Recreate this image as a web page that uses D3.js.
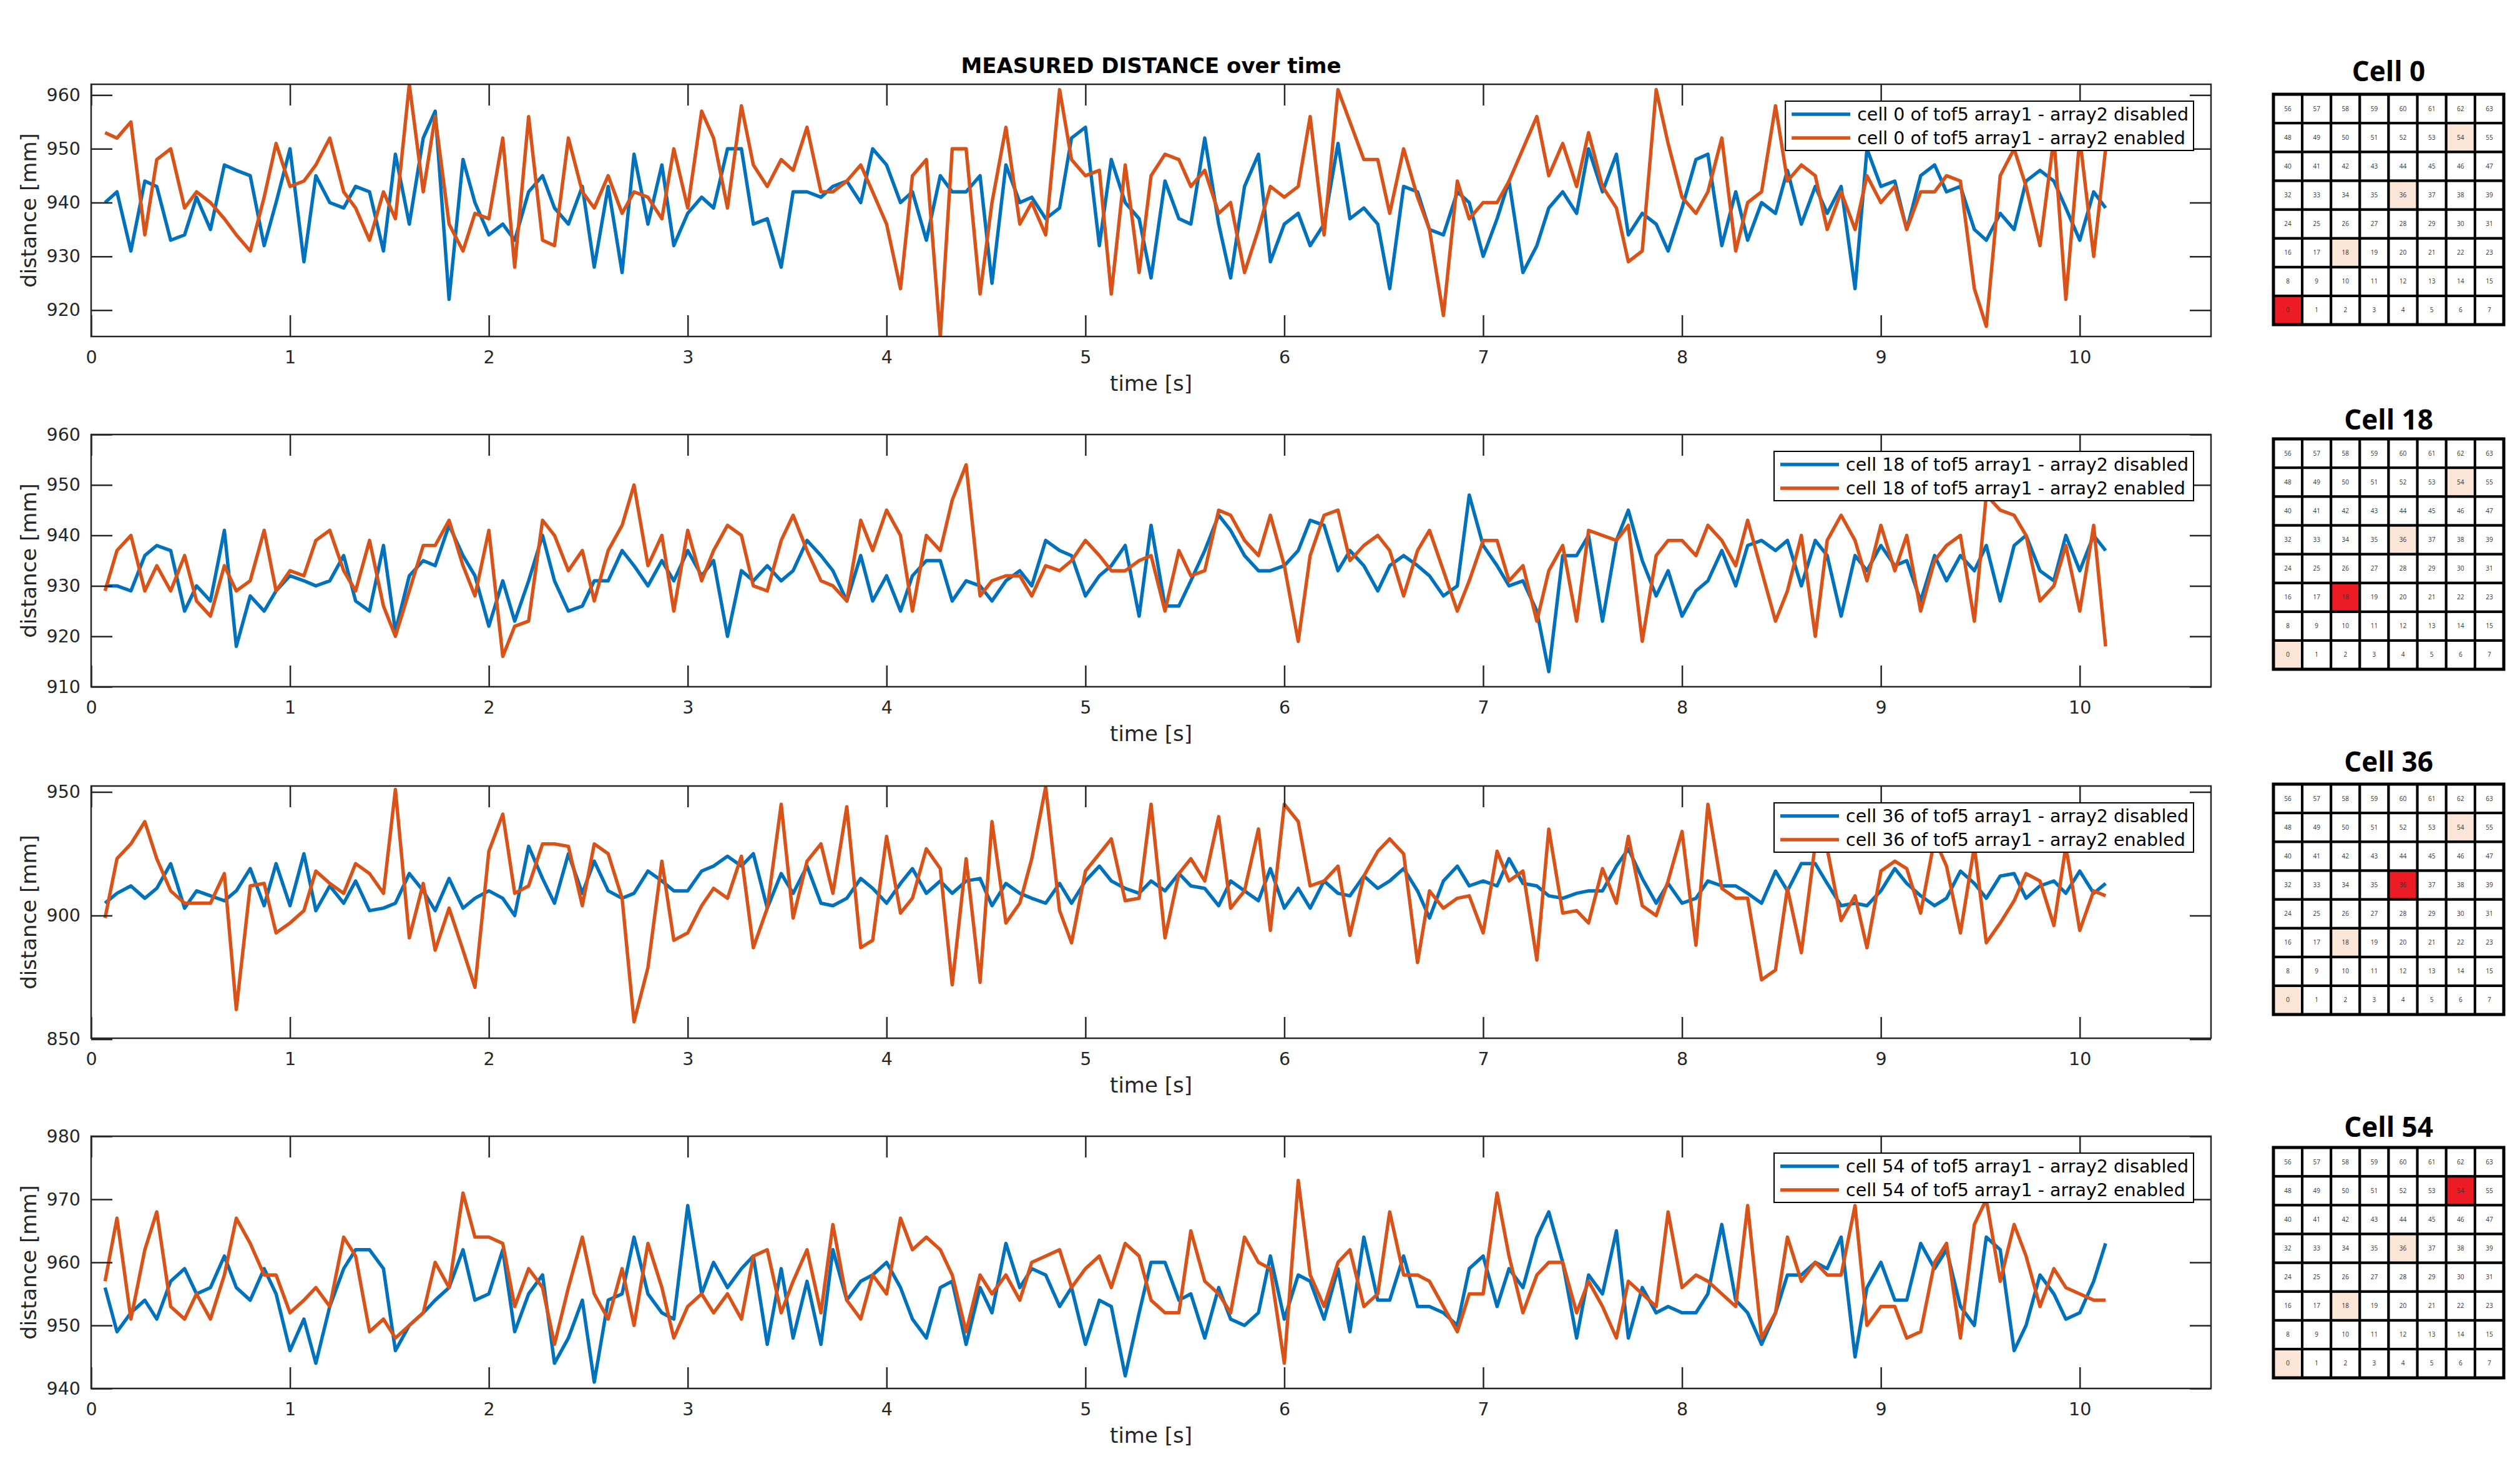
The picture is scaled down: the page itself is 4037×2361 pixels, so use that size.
<!DOCTYPE html>
<html>
<head>
<meta charset="utf-8">
<style>
  body { margin: 0; background: #fff; }
  svg { font-family: "DejaVu Sans", sans-serif; }
</style>
</head>
<body>
<svg width="4037" height="2361"></svg>
<script src="https://d3js.org/d3.v7.min.js"></script>
<script>

// sample times [s], one sample every ~0.067 s
var sampleTimes = [
  0.07,0.13,0.2,0.27,0.33,0.4,0.47,0.53,0.6,0.67,0.73,0.8,0.87,0.93,1,
  1.07,1.13,1.2,1.27,1.33,1.4,1.47,1.53,1.6,1.67,1.73,1.8,1.87,1.93,2,
  2.07,2.13,2.2,2.27,2.33,2.4,2.47,2.53,2.6,2.67,2.73,2.8,2.87,2.93,3,
  3.07,3.13,3.2,3.27,3.33,3.4,3.47,3.53,3.6,3.67,3.73,3.8,3.87,3.93,4,
  4.07,4.13,4.2,4.27,4.33,4.4,4.47,4.53,4.6,4.67,4.73,4.8,4.87,4.93,5,
  5.07,5.13,5.2,5.27,5.33,5.4,5.47,5.53,5.6,5.67,5.73,5.8,5.87,5.93,6,
  6.07,6.13,6.2,6.27,6.33,6.4,6.47,6.53,6.6,6.67,6.73,6.8,6.87,6.93,7,
  7.07,7.13,7.2,7.27,7.33,7.4,7.47,7.53,7.6,7.67,7.73,7.8,7.87,7.93,8,
  8.07,8.13,8.2,8.27,8.33,8.4,8.47,8.53,8.6,8.67,8.73,8.8,8.87,8.93,9,
  9.07,9.13,9.2,9.27,9.33,9.4,9.47,9.53,9.6,9.67,9.73,9.8,9.87,9.93,10,
  10.07,10.13
];

var cellIds = [0, 18, 36, 54];

// measured distance [mm], array2 disabled / enabled
var cell0Disabled = [
  940,942,931,944,943,933,934,941,935,947, 946,945,932,940,950,929,945,940,939,943,
  942,931,949,936,952,957,922,948,940,934, 936,933,942,945,939,936,943,928,943,927,
  949,936,947,932,938,941,939,950,950,936, 937,928,942,942,941,943,944,940,950,947,
  940,942,933,945,942,942,945,925,947,940, 941,937,939,952,954,932,948,940,937,926,
  944,937,936,952,936,926,943,949,929,936, 938,932,936,951,937,939,936,924,943,942,
  935,934,942,940,930,937,944,927,932,939, 942,938,950,942,949,934,938,936,931,939,
  948,949,932,942,933,940,938,946,936,943, 938,943,924,950,943,944,935,945,947,942,
  943,935,933,938,935,944,946,944,939,933, 942,939
];
var cell0Enabled = [
  953,952,955,934,948,950,939,942,940,937, 934,931,941,951,943,944,947,952,942,939,
  933,942,937,962,942,956,936,931,938,937, 952,928,956,933,932,952,942,939,945,938,
  942,941,937,950,939,957,952,939,958,947, 943,948,946,954,942,942,944,947,942,936,
  924,945,948,915,950,950,923,940,954,936, 940,934,961,948,945,946,923,947,927,945,
  949,948,943,946,938,940,927,935,943,941, 943,956,934,961,955,948,948,938,950,941,
  935,919,944,937,940,940,944,950,956,945, 951,943,953,943,939,929,931,961,951,941,
  938,942,952,931,940,942,958,944,947,945, 935,942,935,945,940,943,935,942,942,945,
  944,924,917,945,950,943,932,952,922,952, 930,950
];
var cell18Disabled = [
  930,930,929,936,938,937,925,930,927,941, 918,928,925,929,932,931,930,931,936,927,
  925,938,921,932,935,934,942,936,932,922, 931,923,931,940,931,925,926,931,931,937,
  934,930,935,931,937,932,935,920,933,931, 934,931,933,939,936,933,927,936,927,932,
  925,932,935,935,927,931,930,927,931,933, 930,939,937,936,928,932,934,938,924,942,
  926,926,931,937,944,941,936,933,933,934, 937,943,942,933,937,934,929,934,936,934,
  932,928,930,948,938,934,930,931,925,913, 936,936,940,923,939,945,935,928,933,924,
  929,931,937,930,938,939,937,939,930,939, 936,924,936,933,938,934,935,927,936,931,
  936,933,938,927,938,940,933,931,940,933, 940,937
];
var cell18Enabled = [
  929,937,940,929,934,929,936,927,924,934, 929,931,941,929,933,932,939,941,933,929,
  939,926,920,929,938,938,943,934,928,941, 916,922,923,943,940,933,937,927,937,942,
  950,934,940,925,941,931,937,942,940,930, 929,939,944,937,931,930,927,943,937,945,
  940,925,940,937,947,954,928,931,932,932, 928,934,933,935,939,936,933,933,935,936,
  925,937,932,933,945,944,939,936,944,934, 919,936,944,945,935,938,940,937,928,937,
  941,933,925,931,939,939,931,934,923,933, 938,923,941,940,939,942,919,936,939,939,
  936,942,939,934,943,933,923,929,940,920, 939,944,939,931,942,933,940,925,935,938,
  940,923,948,945,944,940,927,930,938,925, 942,918
];
var cell36Disabled = [
  905,909,912,907,911,921,903,910,908,906, 910,919,904,921,904,925,902,912,905,914,
  902,903,905,917,910,902,915,903,907,910, 907,900,928,915,905,925,909,922,910,907,
  909,918,914,910,910,918,920,924,920,925, 903,917,909,920,905,904,907,915,911,905,
  913,919,909,914,909,914,915,904,913,909, 907,905,913,905,914,920,914,911,909,914,
  910,917,912,911,904,914,910,906,919,903, 911,903,914,909,908,916,911,914,919,910,
  899,914,920,912,914,912,923,913,912,908, 907,909,910,910,920,927,915,905,913,905,
  907,914,912,912,909,905,918,910,921,921, 913,904,905,904,910,919,913,908,904,907,
  918,913,907,916,917,907,912,914,909,918, 909,913
];
var cell36Enabled = [
  899,923,929,938,923,910,905,905,905,917, 862,912,913,893,897,902,918,913,909,921,
  917,909,951,891,913,886,903,886,871,926, 941,909,912,929,929,928,904,929,925,907,
  857,879,922,890,893,904,911,907,924,887, 903,945,899,922,929,909,944,887,890,932,
  901,907,927,919,872,923,873,938,897,905, 923,952,902,889,918,925,931,906,907,945,
  891,917,923,914,940,903,910,935,894,945, 938,912,914,920,892,916,926,931,925,881,
  910,903,907,908,893,926,914,918,882,935, 901,902,897,919,905,932,904,900,914,934,
  888,945,911,907,907,874,878,911,885,929, 927,898,908,887,918,922,919,901,931,920,
  893,928,889,897,906,917,914,896,928,894, 910,908
];
var cell54Disabled = [
  956,949,952,954,951,957,959,955,956,961, 956,954,959,955,946,951,944,953,959,962,
  962,959,946,950,952,954,956,962,954,955, 962,949,955,958,944,948,954,941,954,955,
  964,955,952,951,969,955,960,956,959,961, 947,959,948,957,947,962,954,957,958,960,
  956,951,948,956,957,947,956,952,963,956, 959,958,953,956,947,954,953,942,952,960,
  960,954,955,948,956,951,950,952,961,951, 958,957,951,959,949,964,954,954,961,953,
  953,952,950,959,961,953,959,956,964,968, 960,948,958,955,965,948,956,952,953,952,
  952,955,966,954,952,947,952,958,958,960, 959,964,945,956,960,954,954,963,959,962,
  953,950,964,962,946,950,958,955,951,952, 957,963
];
var cell54Enabled = [
  957,967,951,962,968,953,951,955,951,958, 967,963,958,958,952,954,956,953,964,961,
  949,951,948,950,952,960,956,971,964,964, 963,953,959,956,947,956,964,955,951,959,
  950,963,956,948,953,955,952,955,951,961, 962,952,957,962,952,966,954,951,958,955,
  967,962,964,962,958,949,958,955,958,954, 960,961,962,956,959,961,956,963,961,954,
  952,952,965,957,955,952,964,960,959,944, 973,958,953,960,962,953,955,968,958,958,
  957,953,949,955,955,971,961,952,958,960, 960,952,957,953,948,957,955,953,968,956,
  958,957,955,953,969,948,952,964,957,960, 958,958,969,950,953,953,948,949,960,963,
  948,966,970,957,966,961,953,959,956,955, 954,954
];

var disabledSeries = [cell0Disabled, cell18Disabled, cell36Disabled, cell54Disabled];
var enabledSeries = [cell0Enabled, cell18Enabled, cell36Enabled, cell54Enabled];

var yLimits = [[915.1, 962], [910, 960], [850.4, 952.4], [940, 980]];
var yTickValues = [
  [920, 930, 940, 950, 960],
  [910, 920, 930, 940, 950, 960],
  [850, 900, 950],
  [940, 950, 960, 970, 980]
];
var xLimits = [0, 10.66];
var xTickValues = [0, 1, 2, 3, 4, 5, 6, 7, 8, 9, 10];

// layout
var plotLeft = 146, plotRight = 3542, plotHeight = 404;
var panelTops = [135, 696, 1259, 1820];
var gridLeft = 3642, gridSize = 369;
var gridTops = [151, 703, 1256, 1838];
var gridTitleBase = [130, 688, 1236, 1821];
var tickLen = 34;
var axisColor = "#262626";
var blue = "#0072BD", orange = "#D95319";

var svg = d3.select("svg");

var x = d3.scaleLinear().domain(xLimits).range([plotLeft, plotRight]);

svg.append("text")
    .attr("x", (plotLeft + plotRight) / 2)
    .attr("y", 117)
    .attr("text-anchor", "middle")
    .attr("font-size", 34)
    .attr("font-weight", "bold")
    .attr("fill", "#000")
    .text("MEASURED DISTANCE over time");

cellIds.forEach(function(cell, i) {
  var top = panelTops[i], bottom = top + plotHeight;
  var y = d3.scaleLinear().domain(yLimits[i]).range([bottom, top]);
  var g = svg.append("g");

  svg.append("clipPath").attr("id", "clip" + i)
    .append("rect")
      .attr("x", plotLeft).attr("y", top)
      .attr("width", plotRight - plotLeft).attr("height", plotHeight);

  var line = d3.line()
      .x(function(d, j) { return x(sampleTimes[j]); })
      .y(function(d) { return y(d); });

  var lines = g.append("g").attr("clip-path", "url(#clip" + i + ")");
  lines.append("path").datum(disabledSeries[i])
      .attr("d", line).attr("fill", "none")
      .attr("stroke", blue).attr("stroke-width", 5.5).attr("stroke-linejoin", "round");
  lines.append("path").datum(enabledSeries[i])
      .attr("d", line).attr("fill", "none")
      .attr("stroke", orange).attr("stroke-width", 5.5).attr("stroke-linejoin", "round");

  // axes, MATLAB style: ticks inward on all four sides
  var axB = g.append("g").attr("transform", "translate(0," + bottom + ")")
      .call(d3.axisBottom(x).tickValues(xTickValues).tickSizeInner(-tickLen).tickSizeOuter(0).tickPadding(23));
  var axT = g.append("g").attr("transform", "translate(0," + top + ")")
      .call(d3.axisTop(x).tickValues(xTickValues).tickSizeInner(-tickLen).tickSizeOuter(0).tickFormat(""));
  var axL = g.append("g").attr("transform", "translate(" + plotLeft + ",0)")
      .call(d3.axisLeft(y).tickValues(yTickValues[i]).tickSizeInner(-tickLen).tickSizeOuter(0).tickPadding(17));
  var axR = g.append("g").attr("transform", "translate(" + plotRight + ",0)")
      .call(d3.axisRight(y).tickValues(yTickValues[i]).tickSizeInner(-tickLen).tickSizeOuter(0).tickFormat(""));

  [axB, axT, axL, axR].forEach(function(a) {
    a.select(".domain").remove();
    a.attr("font-family", null).attr("font-size", null);
    a.selectAll("line").attr("stroke", axisColor).attr("stroke-width", 2.5);
    a.selectAll("text").attr("fill", axisColor).attr("font-size", 28.5);
  });

  g.append("rect")
      .attr("x", plotLeft).attr("y", top)
      .attr("width", plotRight - plotLeft).attr("height", plotHeight)
      .attr("fill", "none").attr("stroke", axisColor).attr("stroke-width", 2.5);

  g.append("text")
      .attr("x", (plotLeft + plotRight) / 2)
      .attr("y", bottom + 87)
      .attr("text-anchor", "middle")
      .attr("font-size", 34)
      .attr("fill", axisColor)
      .text("time [s]");

  g.append("text")
      .attr("transform", "translate(58," + (top + plotHeight / 2) + ") rotate(-90)")
      .attr("text-anchor", "middle")
      .attr("font-size", 34)
      .attr("fill", axisColor)
      .text("distance [mm]");

  // legend
  var labels = [
    "cell " + cell + " of tof5 array1 - array2 disabled",
    "cell " + cell + " of tof5 array1 - array2 enabled"
  ];
  var leg = g.append("g");
  var box = leg.append("rect")
      .attr("y", top + 27).attr("height", 79)
      .attr("fill", "#fff").attr("stroke", "#000").attr("stroke-width", 2);
  var texts = leg.selectAll("text.lab").data(labels).enter().append("text")
      .attr("class", "lab")
      .attr("y", function(d, j) { return top + 27 + (j === 0 ? 31 : 69); })
      .attr("font-size", 28.5)
      .attr("fill", "#000")
      .text(function(d) { return d; });
  var textW = d3.max(texts.nodes(), function(n) { return n.getComputedTextLength(); });
  var legRight = 3514, legLeft = legRight - textW - 8 - 115;
  box.attr("x", legLeft).attr("width", legRight - legLeft);
  texts.attr("x", legLeft + 115);
  leg.selectAll("line").data([blue, orange]).enter().append("line")
      .attr("x1", legLeft + 10).attr("x2", legLeft + 104)
      .attr("y1", function(d, j) { return top + 27 + (j === 0 ? 21 : 59); })
      .attr("y2", function(d, j) { return top + 27 + (j === 0 ? 21 : 59); })
      .attr("stroke", function(d) { return d; })
      .attr("stroke-width", 5.5);

  // sensor grid with the current cell marked
  var cs = gridSize / 8, gy = gridTops[i];
  var grid = svg.append("g");
  grid.append("text")
      .attr("x", gridLeft + gridSize / 2)
      .attr("y", gridTitleBase[i])
      .attr("text-anchor", "middle")
      .attr("font-family", "'Open Sans', sans-serif")
      .attr("font-weight", "bold")
      .attr("font-size", 44)
      .attr("fill", "#000")
      .text("Cell " + cell);

  var cellG = grid.selectAll("g.c").data(d3.range(64)).enter().append("g")
      .attr("class", "c")
      .attr("transform", function(n) {
        return "translate(" + (gridLeft + (n % 8) * cs) + "," + (gy + (7 - Math.floor(n / 8)) * cs) + ")";
      });
  cellG.append("rect")
      .attr("width", cs).attr("height", cs)
      .attr("fill", function(n) {
        if (n === cell) return "#ed1c24";
        if (cellIds.indexOf(n) >= 0) return "#fbe5d6";
        return "#fff";
      })
      .attr("stroke", "#000").attr("stroke-width", 4);
  cellG.append("text")
      .attr("x", cs / 2).attr("y", cs / 2 + 3.5)
      .attr("text-anchor", "middle")
      .attr("font-family", "'Open Sans', sans-serif")
      .attr("font-size", 10)
      .attr("fill", "#333")
      .text(function(n) { return n; });
  grid.append("rect")
      .attr("x", gridLeft).attr("y", gy)
      .attr("width", gridSize).attr("height", gridSize)
      .attr("fill", "none").attr("stroke", "#000").attr("stroke-width", 5);
});

</script>
</body>
</html>
